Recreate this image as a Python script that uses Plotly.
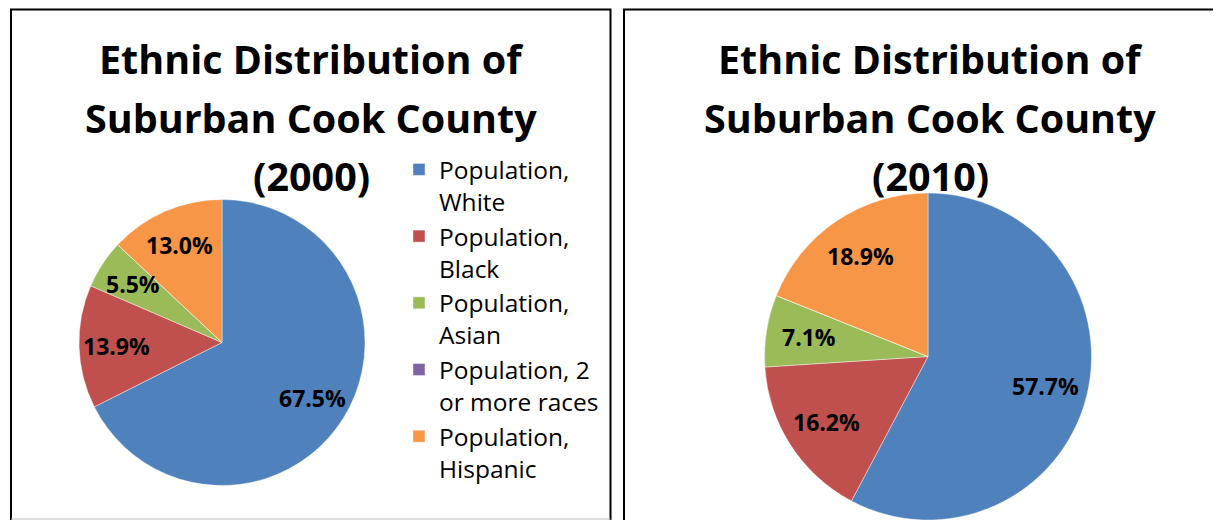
import math
import plotly.graph_objects as go

categories = ["Population,<br>White", "Population,<br>Black", "Population,<br>Asian",
              "Population, 2<br>or more races", "Population,<br>Hispanic"]
values_2000 = [67.5, 13.9, 5.5, 0.0, 13.0]
values_2010 = [57.7, 16.2, 7.1, 0.0, 18.9]
colors = ["#4F81BD", "#C0504D", "#9BBB59", "#8064A2", "#F79646"]
titles_2000 = ["Ethnic Distribution of", "Suburban Cook County", "(2000)"]
titles_2010 = ["Ethnic Distribution of", "Suburban Cook County", "(2010)"]

# page is 1221x520; the html body has an 8px margin, so the figure is offset
OFF = 8
W, H = 1221 - OFF, 520 - OFF


def px(x):
    return (x - OFF) / W


def py(y):
    return 1 - (y - OFF) / H


LABEL_FONT = dict(family="Open Sans", size=23, color="black", weight="bold")

# pie geometry in page pixels: (center x, top y, bottom y)
pies = [
    (values_2000, titles_2000, 222, 199.5, 485.5, 311),
    (values_2010, titles_2010, 928, 193, 520, 930),
]

fig = go.Figure()
annotations = []
for k, (vals, titles, cx, top, bottom, tcx) in enumerate(pies):
    r = (bottom - top) / 2
    fig.add_trace(go.Pie(
        labels=categories, values=vals, textinfo="none",
        sort=False, direction="clockwise", rotation=0, showlegend=(k == 0),
        marker=dict(colors=colors, line=dict(color="rgba(255,255,255,0.6)", width=0.7)),
        domain=dict(x=[px(cx - r), px(cx + r)], y=[max(0, py(bottom)), py(top)]),
        hoverinfo="label+percent",
    ))
    # data labels placed along each slice's mid angle
    total = sum(vals)
    cy = (top + bottom) / 2
    cum = 0.0
    for v in vals:
        if v > 0:
            mid = (cum + v / 2) / total * 2 * math.pi
            lx = cx + 0.74 * r * math.sin(mid)
            ly = cy - 0.74 * r * math.cos(mid)
            annotations.append(dict(
                text=f"{v:.1f}%", x=px(lx), y=py(ly), xref="paper", yref="paper",
                xanchor="center", yanchor="middle", showarrow=False, font=LABEL_FONT,
            ))
        cum += v
    for i, t in enumerate(titles):
        annotations.append(dict(
            text=t, x=px(tcx), y=py(59 + 58.5 * i), xref="paper", yref="paper",
            xanchor="center", yanchor="middle", showarrow=False,
            font=dict(family="Open Sans", size=39.5, color="black", weight="bold"),
        ))

shapes = [
    dict(type="rect", xref="paper", yref="paper", x0=px(11), x1=px(610.5),
         y0=py(540), y1=py(9.5), line=dict(color="black", width=2)),
    dict(type="rect", xref="paper", yref="paper", x0=px(624), x1=px(1240),
         y0=py(540), y1=py(9.5), line=dict(color="black", width=2)),
    dict(type="line", xref="paper", yref="paper", x0=px(11), x1=px(610.5),
         y0=py(519), y1=py(519), line=dict(color="#BBBBBB", width=1)),
]

fig.update_layout(
    width=W, height=H, margin=dict(l=0, r=0, t=0, b=0),
    paper_bgcolor="white", plot_bgcolor="white",
    annotations=annotations, shapes=shapes,
    legend=dict(x=px(399), y=py(147), xanchor="left", yanchor="top", valign="top",
                font=dict(family="Open Sans", size=24.5, color="black"),
                bgcolor="rgba(0,0,0,0)", traceorder="normal"),
)

fig.write_html("out.html")
